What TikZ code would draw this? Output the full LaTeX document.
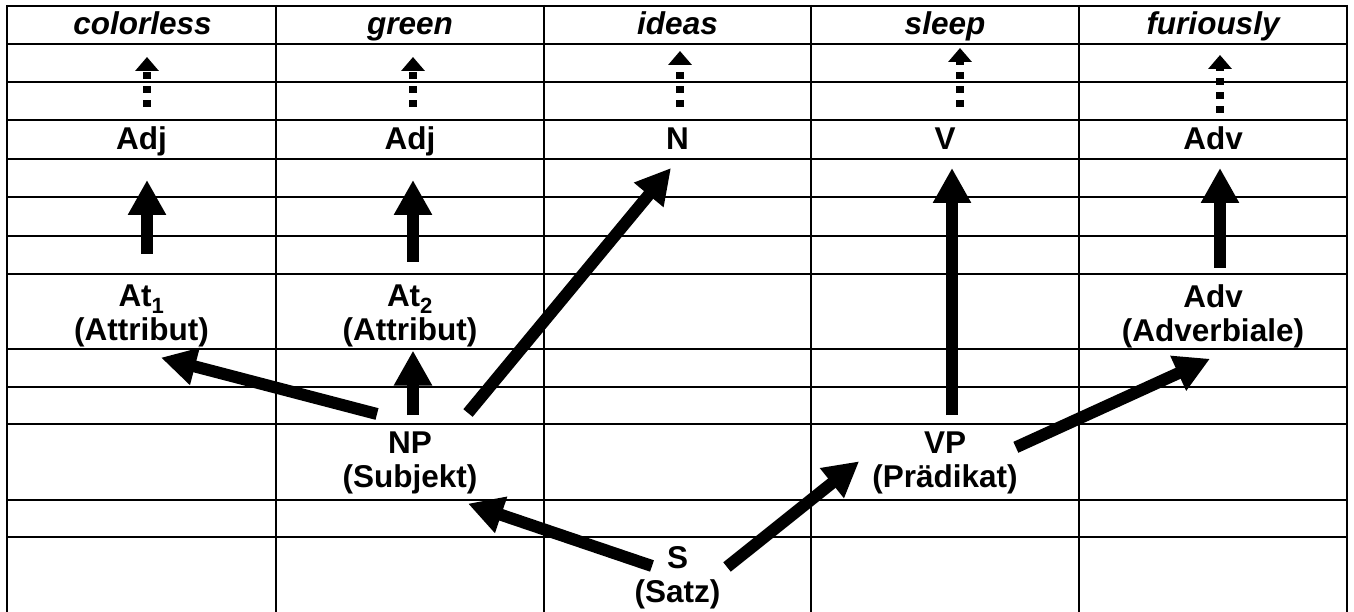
\documentclass[tikz,border=0pt]{standalone}
\usepackage{fontspec}
\setmainfont{Liberation Sans}
\usetikzlibrary{arrows.meta,calc}
\begin{document}
\begin{tikzpicture}[x=1pt,y=-1pt,
  gridline/.style={line width=2pt},
  lbl/.style={inner sep=0pt,font=\fontsize{31.5}{34}\selectfont\bfseries,align=center},
  word/.style={inner sep=0pt,font=\fontsize{31.5}{34}\selectfont\bfseries\itshape,anchor=base},
  big/.style={line width=12pt,-{Triangle[width=36pt,length=35pt]}},
  dotarr/.style={line width=8pt,dash pattern=on 7pt off 7pt,-{Triangle[width=23pt,length=14pt]}}]
\useasboundingbox (0,0) rectangle (1354,612);
% grid
\foreach \y in {6,44,82,120,159,197,236,274,349,387,424,500,537}
  \draw[gridline] (6,\y) -- (1348,\y);
\foreach \x in {7,276,544,811,1079,1347}
  \draw[gridline] (\x,5) -- (\x,612);
% header words
\node[word] (w1) at (142.5,35) {colorless};
\node[word] (w2) at (410,35) {green};
\node[word] (w3) at (677.5,35) {ideas};
\node[word] (w4) at (945,35) {sleep};
\node[word] (w5) at (1213,35) {furiously};
% category row
\node[lbl,anchor=base] (c1) at (141.5,150) {Adj};
\node[lbl,anchor=base] (c2) at (410,150) {Adj};
\node[lbl,anchor=base] (c3) at (677.5,150) {N};
\node[lbl,anchor=base] (c4) at (945,150) {V};
\node[lbl,anchor=base] (c5) at (1213,150) {Adv};
% functions
\node[lbl,anchor=north] (at1) at (141.5,285) {At\textsubscript{1}\\(Attribut)};
\node[lbl,anchor=north] (at2) at (410,285) {At\textsubscript{2}\\(Attribut)};
\node[lbl,anchor=north] (adv) at (1213,284) {Adv\\(Adverbiale)};
\node[lbl,anchor=north] (np) at (410,432) {NP\\(Subjekt)};
\node[lbl,anchor=north] (vp) at (945,432) {VP\\(Pr\"adikat)};
\node[lbl,anchor=north] (s) at (677.5,546) {S\\(Satz)};
% dotted arrows
\draw[dotarr] ($(c1.base)+(5.5,-43)$) -- ($(w1.base)+(4.5,22)$);
\draw[dotarr] ($(c2.base)+(3,-43)$) -- ($(w2.base)+(3,22)$);
\draw[dotarr] ($(c3.base)+(2.5,-43)$) -- ($(w3.base)+(2.5,16)$);
\draw[dotarr] ($(c4.base)+(15,-43)$) -- ($(w4.base)+(15,13)$);
\draw[dotarr] ($(c5.base)+(7,-37)$) -- ($(w5.base)+(7,20)$);
% solid arrows
\draw[big] ($(at1.north)+(5.5,-31)$) -- ($(c1.base)+(5.5,30)$);
\draw[big] ($(at2.north)+(3,-23)$) -- ($(c2.base)+(3,30)$);
\draw[big] ($(adv.north)+(7,-16)$) -- ($(c5.base)+(7,18)$);
\draw[big] ($(np.north)+(-33,-18)$) -- ($(at1.south)+(19.5,10)$);
\draw[big] ($(np.north)+(3,-17)$) -- ($(at2.south)+(3,3)$);
\draw[big] ($(np.north)+(58,-19)$) -- ($(c3.base)+(-6.5,18)$);
\draw[big] ($(vp.north)+(7,-17)$) -- ($(c4.base)+(7,18)$);
\draw[big] ($(vp.east)+(-2,-16)$) -- ($(adv.south)+(-3,11)$);
\draw[big] ($(s.north)+(-25.5,20)$) -- ($(np.south)+(58,9)$);
\draw[big] ($(s.north)+(49.5,21)$) -- ($(vp.west)+(-13,-2)$);
\end{tikzpicture}
\end{document}
